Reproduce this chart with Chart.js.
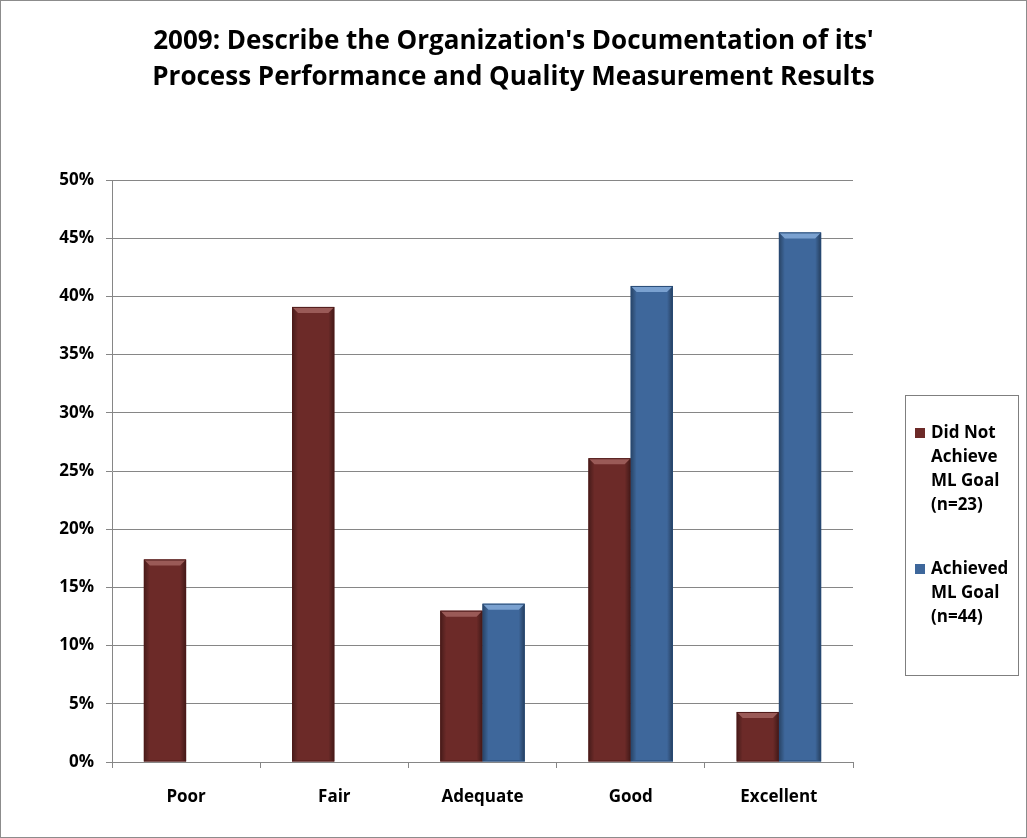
<!DOCTYPE html>
<html>
<head>
<meta charset="utf-8">
<script src="https://cdn.jsdelivr.net/npm/chart.js@4/dist/chart.umd.min.js"></script>
<style>
  html, body { margin: 0; padding: 0; background: #fff; }
  #wrap { position: relative; width: 1027px; height: 838px; }
  #wrap::after { content: ''; position: absolute; left: 0; top: 0; right: 0; bottom: 0;
    border: 1px solid #8c8c8c; pointer-events: none; }
</style>
</head>
<body>
<div id="wrap"><canvas id="barChart" width="1027" height="838"></canvas></div>
<script>
const categories = ['Poor', 'Fair', 'Adequate', 'Good', 'Excellent'];
const notAchieved = [17.4, 39.1, 13.0, 26.1, 4.3];
const achieved = [null, null, 13.6, 40.9, 45.5];
const seriesLabels = ['Did Not Achieve ML Goal (n=23)', 'Achieved ML Goal (n=44)'];
const yTicks = [0, 5, 10, 15, 20, 25, 30, 35, 40, 45, 50];

const FONT = '"Open Sans", Lato, sans-serif';

// Office-style bevel on each bar
const bevel = {
  id: 'bevel',
  afterDatasetsDraw(chart) {
    const ctx = chart.ctx;
    chart.data.datasets.forEach((ds, i) => {
      const meta = chart.getDatasetMeta(i);
      meta.data.forEach((bar, j) => {
        if (ds.data[j] == null) return;
        const { x, y, base, width } = bar.getProps(['x', 'y', 'base', 'width'], true);
        const l = x - width / 2, r = x + width / 2, t = y, b = base;
        const e = 6;
        ctx.save();
        // top facet
        ctx.fillStyle = ds.bevelLight;
        ctx.beginPath();
        ctx.moveTo(l, t); ctx.lineTo(r, t); ctx.lineTo(r - e, t + e); ctx.lineTo(l + e, t + e);
        ctx.closePath(); ctx.fill();
        // side shading
        let g = ctx.createLinearGradient(l, 0, l + e, 0);
        g.addColorStop(0, 'rgba(0,0,0,0.35)'); g.addColorStop(1, 'rgba(0,0,0,0)');
        ctx.fillStyle = g;
        ctx.beginPath();
        ctx.moveTo(l, t); ctx.lineTo(l + e, t + e); ctx.lineTo(l + e, b - 2); ctx.lineTo(l, b);
        ctx.closePath(); ctx.fill();
        g = ctx.createLinearGradient(r, 0, r - e, 0);
        g.addColorStop(0, 'rgba(0,0,0,0.4)'); g.addColorStop(1, 'rgba(0,0,0,0)');
        ctx.fillStyle = g;
        ctx.beginPath();
        ctx.moveTo(r, t); ctx.lineTo(r - e, t + e); ctx.lineTo(r - e, b - 2); ctx.lineTo(r, b);
        ctx.closePath(); ctx.fill();
        ctx.strokeStyle = ds.edgeColor;
        ctx.lineWidth = 1;
        ctx.strokeRect(l + 0.5, t + 0.5, width - 1, b - t - 1);
        ctx.restore();
      });
    });
  }
};

// boxed legend on the right with wrapped labels
const sideLegend = {
  id: 'sideLegend',
  afterDraw(chart) {
    const ctx = chart.ctx;
    const bx = 905, by = 395, bw = 113, bh = 280;
    ctx.save();
    ctx.strokeStyle = '#7f7f7f';
    ctx.lineWidth = 1;
    ctx.strokeRect(bx + 0.5, by + 0.5, bw, bh);
    ctx.font = 'bold 17px ' + FONT;
    ctx.textBaseline = 'middle';
    ctx.fillStyle = '#000';
    let ty = 433;
    chart.data.datasets.forEach((ds) => {
      const words = ds.label.split(' ');
      const lines = [];
      let cur = '';
      words.forEach(w => {
        const test = cur ? cur + ' ' + w : w;
        if (cur && ctx.measureText(test).width > 82) { lines.push(cur); cur = w; }
        else cur = test;
      });
      lines.push(cur);
      ctx.fillStyle = ds.backgroundColor;
      ctx.fillRect(915, ty - 5, 10, 10);
      ctx.fillStyle = '#000';
      lines.forEach((ln, k) => ctx.fillText(ln, 931, ty + k * 24));
      ty += lines.length * 24 + 40;
    });
    ctx.restore();
  }
};

new Chart(document.getElementById('barChart').getContext('2d'), {
  type: 'bar',
  data: {
    labels: categories,
    datasets: [
      {
        label: seriesLabels[0],
        data: notAchieved,
        backgroundColor: '#6c2a28',
        bevelLight: '#9a5a57',
        edgeColor: '#4e1a19',
        borderWidth: 0,
      },
      {
        label: seriesLabels[1],
        data: achieved,
        backgroundColor: '#3e679b',
        bevelLight: '#7aa1d0',
        edgeColor: '#284a74',
        borderWidth: 0,
      },
    ],
  },
  plugins: [bevel, sideLegend],
  options: {
    responsive: false,
    animation: false,
    categoryPercentage: 0.57,
    barPercentage: 1,
    plugins: {
      legend: { display: false },
      tooltip: { enabled: false },
      title: {
        display: true,
        text: ["2009: Describe the Organization's Documentation of its'",
               'Process Performance and Quality Measurement Results'],
        color: '#000',
        font: { family: FONT, size: 26, weight: 'bold', lineHeight: 1.385 },
        padding: { top: 24, bottom: 84 },
      },
    },
    scales: {
      x: {
        grid: { drawOnChartArea: false, drawTicks: true, tickLength: 6, color: '#868686' },
        border: { color: '#868686' },
        ticks: { color: '#000', font: { family: FONT, size: 17, weight: 'bold' }, padding: 19 },
        afterFit: s => { s.height = 76; },
      },
      y: {
        min: 0,
        max: 50,
        afterBuildTicks: s => { s.ticks = yTicks.map(v => ({ value: v })); },
        grid: { color: '#868686', tickLength: 6 },
        border: { color: '#868686' },
        ticks: {
          color: '#000',
          font: { family: FONT, size: 17, weight: 'bold' },
          padding: 12,
          callback: v => v + '%',
        },
        afterFit: s => { s.width = 112; },
      },
      // empty right-hand axis that keeps room for the legend box
      legendSpace: {
        type: 'linear',
        position: 'right',
        grid: { display: false },
        border: { display: false },
        ticks: { display: false },
        afterFit: s => { s.width = 174; },
      },
    },
  },
});
</script>
</body>
</html>
